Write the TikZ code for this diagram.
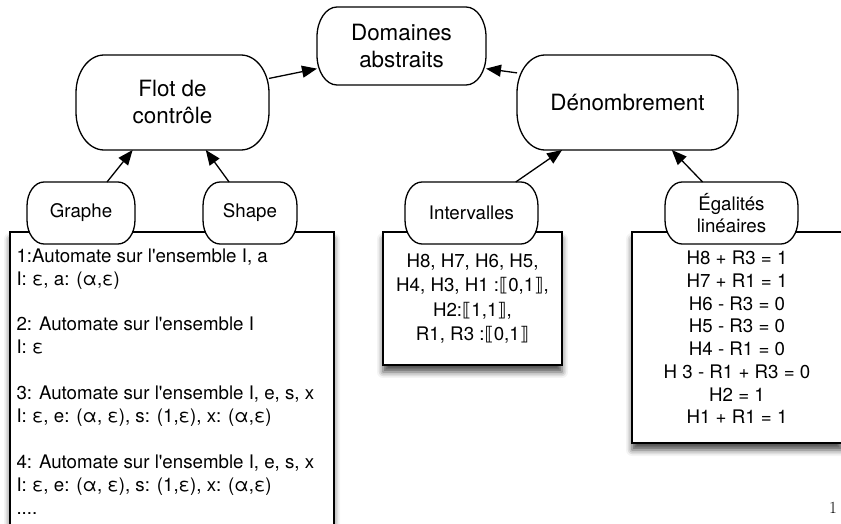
\documentclass[tikz,border=0pt]{standalone}
\usepackage{fontspec}
\usetikzlibrary{arrows.meta,shadows.blur}
\newfontfamily\heros{TeX Gyre Heros}
\newfontfamily\dejavu{DejaVu Sans}
\pgfdeclarelayer{boxes}
\pgfdeclarelayer{pills}
\pgfsetlayers{boxes,pills,main}
\newcommand\dbl[1]{{\dejavu\char"27E6}#1{\dejavu\char"27E7}}
\newcommand\pill[3]{%
\filldraw[pillline] ([xshift=#2]#1.north west) -- ([xshift=-#2]#1.north east)
 arc[start angle=90,end angle=0,x radius=#2,y radius=#3] -- ([yshift=#3]#1.south east)
 arc[start angle=0,end angle=-90,x radius=#2,y radius=#3] -- ([xshift=#2]#1.south west)
 arc[start angle=270,end angle=180,x radius=#2,y radius=#3] -- ([yshift=-#3]#1.north west)
 arc[start angle=180,end angle=90,x radius=#2,y radius=#3] -- cycle;}
\begin{document}
\begin{tikzpicture}[x=1pt,y=1pt,
  toplbl/.style={font=\heros\fontsize{22.4}{27}\selectfont,align=center,inner sep=0pt,outer sep=0pt},
  sublbl/.style={font=\heros\fontsize{18.7}{21.5}\selectfont,align=center,inner sep=0pt,outer sep=0pt},
  bodytxt/.style={font=\heros\fontsize{18.7}{22.9}\selectfont,inner sep=0pt},
  pillline/.style={draw=black,fill=white,line width=1.3pt},
  boxline/.style={draw=black,fill=white,line width=1.4pt,inner sep=0pt,
    blur shadow={shadow xshift=0pt,shadow yshift=-7pt,shadow blur radius=6pt,shadow opacity=70}},
  link/.style={line width=1.3pt,-{Triangle[length=15pt,width=12pt]}}]
\useasboundingbox (0,0) rectangle (841,523);
%
\begin{pgfonlayer}{boxes}
\begin{scope}
\clip (0,0) rectangle (841,523);
\node[boxline,minimum width=324,minimum height=311] (autos) at (172,135.5) {};
\node[boxline,minimum width=179,minimum height=133,font=\heros\fontsize{18.7}{24.5}\selectfont,align=center] (interbox) at (472.5,224.5)
 {H8, H7, H6, H5,\\H4, H3, H1 :\dbl{0,1},\\H2:\dbl{1,1},\\R1, R3 :\dbl{0,1}};
\node[boxline,minimum width=210,minimum height=211,font=\heros\fontsize{18.7}{22.7}\selectfont,align=center] (egalbox) at (737,185.5)
 {H8 + R3 = 1\\H7 + R1 = 1\\H6 - R3 = 0\\H5 - R3 = 0\\H4 - R1 = 0\\H 3 - R1 + R3 = 0\\H2 = 1\\H1 + R1 = 1};
\end{scope}
\end{pgfonlayer}
\node[bodytxt,anchor=north west,align=left] (autotext) at ([xshift=7,yshift=-17]autos.north west)
 {1:Automate sur l\textquotesingle ensemble I, a\\
  I: ε, a: (α,ε)\\[22.9pt]
  2: Automate sur l\textquotesingle ensemble I\\
  I: ε\\[22.9pt]
  3: Automate sur l\textquotesingle ensemble I, e, s, x\\
  I: ε, e: (α, ε), s: (1,ε), x: (α,ε)\\[22.9pt]
  4: Automate sur l\textquotesingle ensemble I, e, s, x\\
  I: ε, e: (α, ε), s: (1,ε), x: (α,ε)\\
  ....};
%
\node[toplbl,minimum width=169,minimum height=78] (dom) at (401.5,477) {Domaines\\abstraits};
\node[toplbl,minimum width=193,minimum height=95] (flot) at (172.5,420.5) {Flot de\\contrôle};
\node[toplbl,minimum width=221,minimum height=95] (denom) at (627.5,420.5) {Dénombrement};
\node[sublbl,minimum width=108,minimum height=62] (graphe) at (81,310) {Graphe};
\node[sublbl,minimum width=94,minimum height=62] (shape) at (250,310) {Shape};
\node[sublbl,minimum width=133,minimum height=62] (interv) at (471.5,310) {Intervalles};
\node[sublbl,minimum width=133,minimum height=62] (egal) at (731.5,310) {Égalités\\linéaires};
\begin{pgfonlayer}{pills}
\foreach \n/\rx/\ry in {dom/20/30,flot/28/38,denom/28/38,graphe/17/24,shape/17/24,interv/17/24,egal/17/24}{
\pill{\n}{\rx}{\ry}
}
\end{pgfonlayer}
%
\draw[link] (graphe.50) -- (flot.230);
\draw[link] (shape.124) -- (flot.305);
\draw[link] (interv.35) -- (denom.216);
\draw[link] (egal.133) -- (denom.313);
\draw[link] (flot.14) -- (dom.195);
\draw[link] (denom.165) -- (dom.345);
%
\node[inner sep=0pt] (pagenum) at (833,15) {\fontsize{17}{17}\selectfont 1};
\end{tikzpicture}
\end{document}
